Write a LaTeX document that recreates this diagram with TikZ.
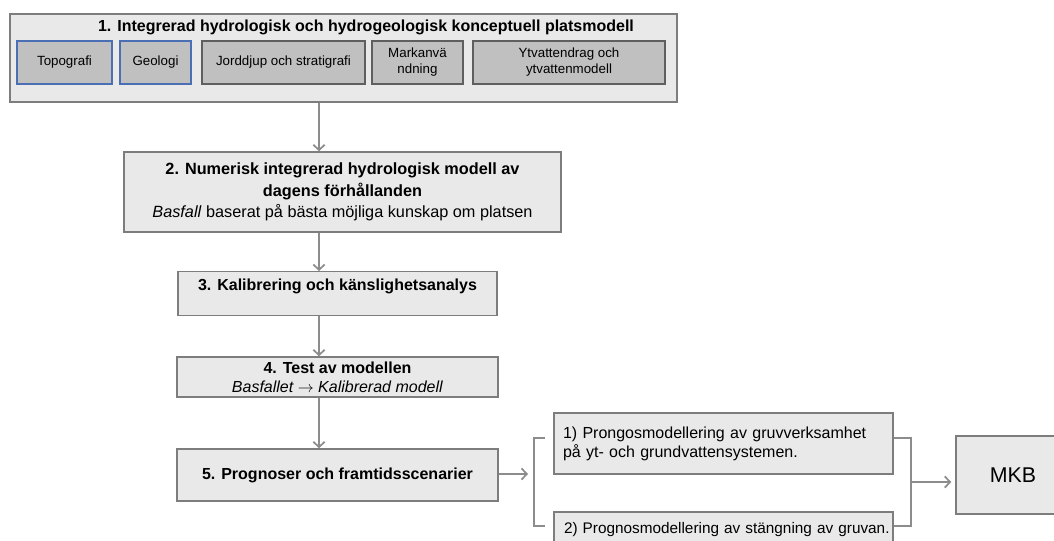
\documentclass[tikz,border=0pt]{standalone}
\usepackage{fontspec}
\setmainfont{Liberation Sans}
\usetikzlibrary{arrows.meta}

\begin{document}
\begin{tikzpicture}[x=0.75pt,y=-0.75pt,
        >={Straight Barb[length=4pt,width=8.5pt]},
        box/.style={draw=boxline, fill=boxfill, line width=1.1pt, inner sep=0pt,
            align=center, font=\fontsize{12}{14.25}\selectfont},
        part/.style={draw=partline, fill=partfill, line width=1.1pt, inner sep=0pt,
            align=center, minimum height=32.25pt, font=\fontsize{10}{12}\selectfont},
        arr/.style={draw=arrline, line width=1.3pt, ->},
        brace/.style={draw=arrline, line width=1.3pt}]
        \definecolor{boxfill}{RGB}{233,233,233}
        \definecolor{boxline}{RGB}{125,125,125}
        \definecolor{partfill}{RGB}{192,192,192}
        \definecolor{partline}{RGB}{95,95,95}
        \definecolor{partblue}{RGB}{74,111,181}
        \definecolor{arrline}{RGB}{140,140,140}

        \useasboundingbox (0,0) rectangle (1054,540);

        \node[box, minimum width=500.25pt, minimum height=66pt] (konc) at (343.5,58) {};
        \node[font=\fontsize{12}{14}\selectfont\bfseries] (konctitle) at (366,27)
            {1. Integrerad hydrologisk och hydrogeologisk konceptuell platsmodell};
        \node[part, draw=partblue, minimum width=71.25pt] (topo) at (64.5,62.5) {Topografi};
        \node[part, draw=partblue, minimum width=53.25pt] (geo) at (155.5,62.5) {Geologi};
        \node[part, minimum width=122.25pt] (jord) at (283.5,62.5) {Jorddjup och stratigrafi};
        \node[part, minimum width=68.25pt] (mark) at (417.5,62.5) {Markanvä\\ndning};
        \node[part, minimum width=144pt] (ytv) at (569,62.5) {Ytvattendrag och\\ytvattenmodell};

        \node[box, minimum width=327.75pt, minimum height=60pt, font=\fontsize{12.2}{16.2}\selectfont]
            (num) at (342.5,192) {\textbf{2. Numerisk integrerad hydrologisk modell av}\\
            \textbf{dagens förhållanden}\\\textit{Basfall} baserat på bästa möjliga kunskap om platsen};
        \node[box, anchor=north, minimum width=239.25pt, text height=14.25pt, text depth=18.75pt]
            (kal) at (337.5,271) {\textbf{3. Kalibrering och känslighetsanalys}};
        \node[box, minimum width=240.75pt, minimum height=30pt] (test) at (337.5,377)
            {\textbf{4. Test av modellen}\\\textit{Basfallet $\rightarrow$ Kalibrerad modell}};
        \node[box, minimum width=240.75pt, minimum height=39pt] (prog) at (337.5,475)
            {\textbf{5. Prognoser och framtidsscenarier}};

        \node[box, align=left, inner xsep=6.75pt, text width=240.75pt, minimum height=45.75pt]
            (alt1) at (723.5,443.5) {1) Prongosmodellering av gruvverksamhet\\på yt- och grundvattensystemen.};
        \node[box, align=left, inner xsep=7.5pt, text width=239.25pt, minimum height=27pt,
            font=\fontsize{11.5}{14}\selectfont]
            (alt2) at (723.5,530) {\mbox{2) Prognosmodellering av stängning av gruvan.}};
        \node[box, minimum width=85.5pt, minimum height=58.5pt, font=\fontsize{16}{19}\selectfont]
            (mkb) at (1013,475) {MKB};

        \coordinate (axis) at (319,0);
        \draw[arr] (konc.south -| axis) -- (num.north -| axis);
        \draw[arr] (num.south -| axis) -- (kal.north -| axis);
        \draw[arr] (kal.south -| axis) -- (test.north -| axis);
        \draw[arr] (test.south -| axis) -- (prog.north -| axis);

        \coordinate (lin) at (528,474);
        \coordinate (lt) at (545,438);
        \coordinate (lb) at (545,526);
        \coordinate (bm) at (910,482);
        \draw[arr] (prog.east |- lin) -- (lin);
        \draw[brace] (lt) -- ++(-11,0) |- (lb);
        \draw[brace] (alt1.east |- lt) -- ++(17,0) |- (alt2.east |- lb);
        \draw[arr, shorten >=3pt] (bm) -- (mkb.west |- bm);
    \end{tikzpicture}
\end{document}
